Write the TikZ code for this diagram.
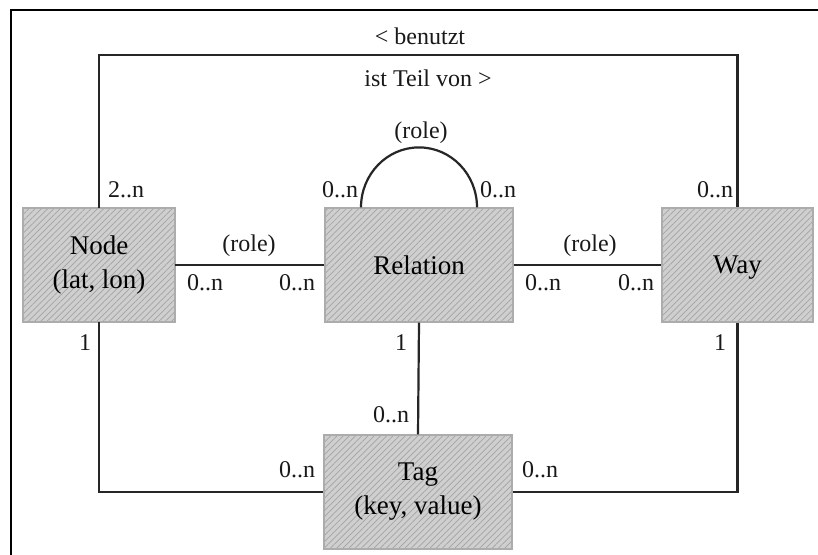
\documentclass[tikz,border=0pt]{standalone}
\usepackage{fontspec}
\setmainfont{Liberation Serif}
\usetikzlibrary{patterns.meta}
\begin{document}
\begin{tikzpicture}[x=0.5pt,y=-0.5pt,
  entity/.style={rectangle, draw=gray!65, line width=0.6pt,
    preaction={fill=gray!38},
    pattern={Lines[angle=45,distance=2.2pt,line width=0.35pt]}, pattern color=gray!72,
    minimum height=57pt, align=center, inner sep=0pt,
    font=\fontsize{13.5}{17}\selectfont},
  conn/.style={line width=1.1pt, draw=black!85},
  lbl/.style={inner sep=0pt, font=\fontsize{12}{14}\selectfont, text=black!90}]
\useasboundingbox (0,0) rectangle (818,555);
\fill[white] (0,0) rectangle (818,555);
\coordinate (fa) at (11,555);
\coordinate (fb) at (11,10);
\coordinate (fc) at (818,10);
\draw[line width=1pt] (fa) -- (fb) -- (fc);

\node[entity, minimum width=76pt] (node) at (99,265) {Node\\(lat, lon)};
\node[entity, minimum width=94pt] (rel) at (419,265) {Relation};
\node[entity, minimum width=75.5pt, text depth=0pt] (way) at (737.5,265) {Way};
\node[entity, minimum width=94pt] (tag) at (418,492) {Tag\\(key, value)};

% connectors
\draw[conn] (node.north) -- ++(0,-153) -| (way.north);
\draw[conn] (node.south) |- (tag.west);
\draw[conn] (way.south) |- (tag.east);
\draw[conn] (node.east) -- (rel.west);
\draw[conn] (rel.east) -- (way.west);
\draw[conn] (rel.south) -- (tag.north);
\draw[conn] ([xshift=-29pt]rel.north) arc[start angle=180, end angle=0, x radius=29pt, y radius=30pt];

% labels
\node[lbl] (l1) at (420,36) {< benutzt};
\node[lbl] (l2) at (428,78) {ist Teil von >};
\node[lbl] (l3) at (421,133) {(role)};
\node[lbl] (l4) at (126,190) {2..n};
\node[lbl] (l5) at (340,190) {0..n};
\node[lbl] (l6) at (498,190) {0..n};
\node[lbl] (l7) at (715,190) {0..n};
\node[lbl] (l8) at (249,246) {(role)};
\node[lbl] (l9) at (205,283) {0..n};
\node[lbl] (l10) at (297,283) {0..n};
\node[lbl] (l11) at (590,246) {(role)};
\node[lbl] (l12) at (543,283) {0..n};
\node[lbl] (l13) at (636,283) {0..n};
\node[lbl] (l14) at (85,343) {1};
\node[lbl] (l15) at (401,343) {1};
\node[lbl] (l16) at (720,343) {1};
\node[lbl] (l17) at (391,415) {0..n};
\node[lbl] (l18) at (297,470) {0..n};
\node[lbl] (l19) at (540,470) {0..n};
\end{tikzpicture}
\end{document}
